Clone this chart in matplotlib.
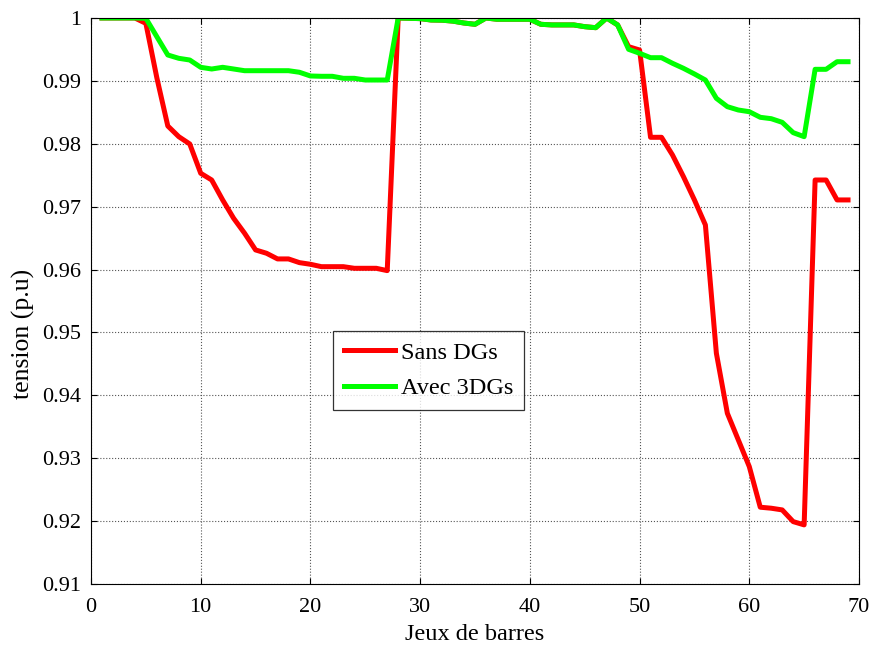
import matplotlib
matplotlib.use("Agg")
import matplotlib.pyplot as plt

plt.rcParams['font.family'] = ['Liberation Serif', 'DejaVu Serif']

buses = list(range(1, 70))

sans_dg = [1.0, 1.0, 1.0, 1.0, 0.99915, 0.9905, 0.98283, 0.98113, 0.97997, 0.97531,
           0.97424, 0.97107, 0.96815, 0.96577, 0.96312, 0.96259, 0.96169, 0.96169, 0.9611, 0.96084,
           0.96046, 0.96046, 0.96046, 0.9602, 0.9602, 0.9602, 0.95983,
           1.0, 0.99995, 0.9999, 0.99968, 0.99965, 0.9995, 0.9992, 0.999, 1.0, 0.9998,
           0.9998, 0.9998, 0.9998, 0.999, 0.9989, 0.9989, 0.9989, 0.99862, 0.99846, 1.0, 0.9989,
           0.99544, 0.99491, 0.98103, 0.98103, 0.97822, 0.97477, 0.97107, 0.96709, 0.94669, 0.93715,
           0.93291, 0.92867, 0.92221, 0.92205, 0.92178, 0.91992, 0.9194, 0.97424, 0.97424, 0.97107, 0.97107]

avec_3dg = [1.0, 1.0, 1.0, 1.0, 0.99995, 0.99703, 0.99412, 0.99359, 0.99332, 0.99216,
            0.99189, 0.99216, 0.99189, 0.99162, 0.99162, 0.99162, 0.99162, 0.99162, 0.99137, 0.99078,
            0.99073, 0.99073, 0.99041, 0.99041, 0.99014, 0.99014, 0.99014,
            1.0, 0.99995, 0.9999, 0.99968, 0.99965, 0.9995, 0.9992, 0.999, 1.0, 0.9998,
            0.9998, 0.9998, 0.9998, 0.999, 0.9989, 0.9989, 0.9989, 0.99862, 0.99846, 1.0, 0.9989,
            0.99502, 0.99439, 0.99369, 0.99369, 0.9928, 0.992, 0.9911, 0.99014, 0.98723, 0.9859,
            0.98537, 0.9851, 0.98421, 0.98399, 0.98341, 0.98177, 0.98113, 0.99184, 0.99184, 0.99305, 0.99305]

labels = ['Sans DGs', 'Avec 3DGs']
xticks = [0, 10, 20, 30, 40, 50, 60, 70]
yticks = [0.91, 0.92, 0.93, 0.94, 0.95, 0.96, 0.97, 0.98, 0.99, 1.0]
yticklabels = ['0.91', '0.92', '0.93', '0.94', '0.95', '0.96', '0.97', '0.98', '0.99', '1']

fig = plt.figure(figsize=(8.76, 6.52), dpi=100)
ax = fig.add_axes([91/876, 1 - 584/652, 768/876, 566/652])

ax.plot(buses, sans_dg, color='#ff0000', lw=3.6, label=labels[0])
ax.plot(buses, avec_3dg, color='#00ff00', lw=3.6, label=labels[1])

ax.set_xlim(0, 70)
ax.set_ylim(0.91, 1.0)
ax.set_xticks(xticks)
ax.set_yticks(yticks)
ax.set_yticklabels(yticklabels)
ax.tick_params(direction='in', labelsize=16, length=4, top=True, right=True, width=0.8)
ax.tick_params(axis='x', pad=10)
ax.tick_params(axis='y', pad=7)
ax.grid(True, color='#555555', linestyle=':', linewidth=0.8)
for s in ax.spines.values():
    s.set_linewidth(0.8)
    s.set_color('black')

ax.set_xlabel('Jeux de barres', fontsize=17.5, labelpad=5)
ax.set_ylabel('tension (p.u)', fontsize=18.5)
ax.yaxis.set_label_coords(-0.073, 0.442)

leg = ax.legend(loc='upper left', bbox_to_anchor=(0.315, 0.447), fontsize=17.5,
                frameon=True, fancybox=False, edgecolor='black', handlelength=2.1,
                borderpad=0.45, labelspacing=0.55, handletextpad=0.25, borderaxespad=0)
leg.get_frame().set_linewidth(0.9)

fig.savefig('out.png', dpi=100)
